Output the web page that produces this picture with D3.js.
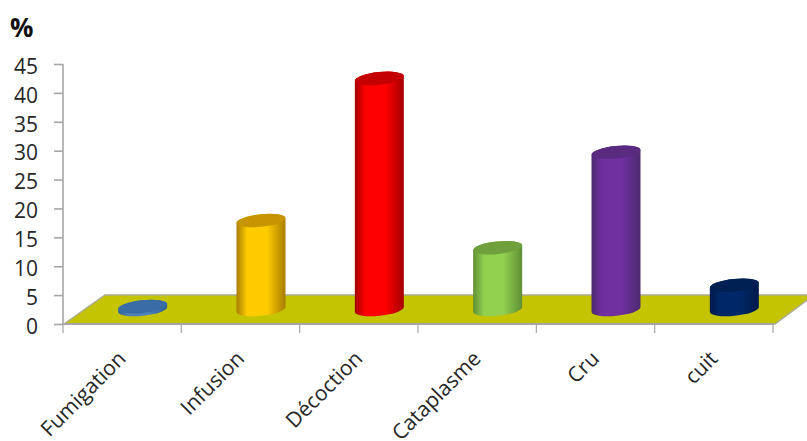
<!DOCTYPE html>
<html>
<head>
<meta charset="utf-8">
<script src="https://cdnjs.cloudflare.com/ajax/libs/d3/7.8.5/d3.min.js"></script>
<style>
html,body{margin:0;padding:0;background:#fff;overflow:hidden}
svg{display:block}
text{font-family:"Open Sans",sans-serif;fill:#262626}
</style>
</head>
<body>
<svg id="chart" width="807" height="441"></svg>
<script>
const categories = ["Fumigation", "Infusion", "Décoction", "Cataplasme", "Cru", "cuit"];
const percentages = [0.5, 15.4, 40, 10.7, 27.2, 4.2];
const barColors = [
  {side: "#2f5f96", mid: "#4f81bd", top: "#3a6ca6"},
  {side: "#a87c00", mid: "#ffcc00", top: "#c79500"},
  {side: "#a50000", mid: "#ff0000", top: "#c40000"},
  {side: "#5f8f35", mid: "#92d050", top: "#6fa03c"},
  {side: "#4c2a70", mid: "#7030a0", top: "#5a2a80"},
  {side: "#001a4a", mid: "#002868", top: "#001f52"}
];
const yTicks = [0, 5, 10, 15, 20, 25, 30, 35, 40, 45];

const width = 807, height = 441;
const axisLeft = 63, axisRight = 773, axisBottom = 324, axisTop = 64;
const depthX = 41, depthY = 29;      // oblique offset of the floor's back edge
const barRx = 24.5, barRy = 6.3, tilt = -6;

const svg = d3.select("#chart");
const x = d3.scaleBand().domain(categories).range([axisLeft, axisRight]);
const y = d3.scaleLinear().domain([0, 45]).range([axisBottom, axisTop]);

// Horizontal shading for the cylinder bodies
const defs = svg.append("defs");
barColors.forEach((c, i) => {
  const g = defs.append("linearGradient").attr("id", "body" + i);
  [[0, c.side], [0.22, c.mid], [0.62, c.mid], [1, c.side]].forEach(([o, col]) =>
    g.append("stop").attr("offset", o).attr("stop-color", col));
});

// Floor plane
svg.append("path")
  .attr("d", d3.line()([
    [axisLeft + 1, axisBottom],
    [axisLeft + 1 + depthX, axisBottom - depthY],
    [axisRight + depthX, axisBottom - depthY],
    [axisRight + 2, axisBottom]
  ]) + "Z")
  .attr("fill", "#c4c400")
  .attr("stroke", "#aaaa90")
  .attr("stroke-width", 1.4);

// Value axis
const yAxis = d3.axisLeft(y).tickValues(yTicks).tickSize(9).tickPadding(16);
const yG = svg.append("g").attr("transform", `translate(${axisLeft},0)`).call(yAxis);
yG.selectAll("path,line").attr("stroke", "#a6a6a6").attr("stroke-width", 1.6);
yG.selectAll("text").style("font-size", "21px").attr("dy", "0.44em");
yG.select(".domain").attr("d", `M0,${axisTop}V${axisBottom}`);

// Category axis with slanted labels
const xAxis = d3.axisBottom(x).tickSize(0).tickFormat(d => d);
const xG = svg.append("g").attr("transform", `translate(0,${axisBottom})`).call(xAxis);
xG.select(".domain").attr("stroke", "#a6a6a6").attr("stroke-width", 2)
  .attr("d", `M${axisLeft},0H${axisRight}`);
xG.selectAll("line").remove();
const boundaries = categories.map(c => x(c)).concat(axisRight);
xG.selectAll(".sep").data(boundaries).join("line")
  .attr("class", "sep")
  .attr("x1", d => d).attr("x2", d => d)
  .attr("y1", 0).attr("y2", 9)
  .attr("stroke", "#a6a6a6").attr("stroke-width", 1.2);
xG.selectAll(".tick text")
  .style("font-size", "21px")
  .attr("text-anchor", "end")
  .attr("dy", 0).attr("y", 0)
  .attr("transform", "translate(5,36) rotate(-45)");

// Cylinders stand mid-way across the floor's depth
const cx = d => x(d) + x.bandwidth() / 2 + depthX / 2;
const lift = depthY / 2;
const baseY = axisBottom - lift;
const dy = barRx * Math.sin(-tilt * Math.PI / 180);

const bars = svg.selectAll(".bar")
  .data(categories.map((c, i) => ({c, v: percentages[i], i})))
  .join("g").attr("class", "bar");

bars.append("path")
  .attr("fill", d => `url(#body${d.i})`)
  .attr("d", d => {
    const c = cx(d.c), t = y(d.v) - lift, b = baseY;
    return `M${c - barRx},${t + dy}` +
      `L${c - barRx},${b + dy}` +
      `A${barRx},${barRy} ${tilt} 0 0 ${c + barRx},${b - dy}` +
      `L${c + barRx},${t - dy}` +
      `A${barRx},${barRy} ${tilt} 0 0 ${c - barRx},${t + dy}Z`;
  });

bars.append("ellipse")
  .attr("rx", barRx).attr("ry", barRy)
  .attr("fill", d => barColors[d.i].top)
  .attr("transform", d => `translate(${cx(d.c)},${y(d.v) - lift}) rotate(${tilt})`);

// Unit label above the value axis
svg.append("text")
  .attr("x", 10).attr("y", 37)
  .style("font-size", "26px").style("font-weight", 700)
  .style("fill", "#111")
  .text("%");
</script>
</body>
</html>
